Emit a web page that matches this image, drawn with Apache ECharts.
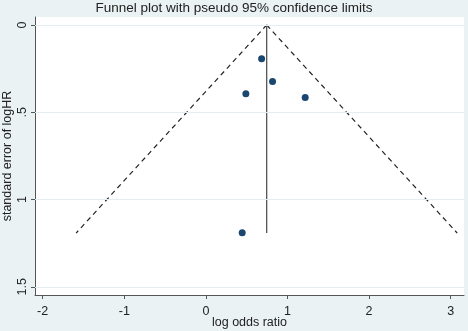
<!DOCTYPE html>
<html>
<head>
<meta charset="utf-8">
<script src="https://cdn.jsdelivr.net/npm/echarts@6/dist/echarts.min.js"></script>
<style>
  html, body { margin: 0; padding: 0; background: #eaf2f3; }
  #funnelChart { width: 468px; height: 331px; }
</style>
</head>
<body>
<div id="funnelChart"></div>
<script>
// study estimates (log odds ratio, standard error)
const studyLogOR = [0.683, 0.817, 0.49, 1.217, 0.445]
const studySE = [0.193, 0.324, 0.394, 0.415, 1.19]

// pooled estimate line and pseudo 95% limits
const pooledX = [0.745, 0.745]
const pooledSE = [0, 1.192]
const lowerLimitX = [0.745, -1.59]
const upperLimitX = [0.745, 3.08]
const limitSE = [0, 1.192]

// axis ticks
const xTicks = [-2, -1, 0, 1, 2, 3]
const yTicks = [0, 0.5, 1, 1.5]
const yTickLabels = ['0', '.5', '1', '1.5']

const textColor = '#222'
const axisColor = '#555'

function pairs (xs, ys) {
  return xs.map((x, i) => [x, ys[i]])
}

var myChart = echarts.init(document.getElementById('funnelChart'))
var option = {
  backgroundColor: '#eaf2f3',
  textStyle: { fontFamily: 'Liberation Sans, Arial, sans-serif' },
  title: {
    text: 'Funnel plot with pseudo 95% confidence limits',
    left: 'center',
    top: 1,
    padding: 0,
    textStyle: { fontSize: 13.5, fontWeight: 'normal', color: textColor }
  },
  grid: {
    left: 35,
    right: 4,
    top: 17,
    bottom: 36,
    containLabel: false,
    outerBoundsMode: 'none',
    show: true,
    backgroundColor: '#fff',
    borderWidth: 0
  },
  xAxis: {
    type: 'value',
    min: -2.094,
    max: 3.163,
    name: 'log odds ratio',
    nameLocation: 'middle',
    nameGap: 21,
    nameMoveOverlap: false,
    nameTextStyle: { fontSize: 12.5, color: textColor },
    axisLine: { show: true, onZero: false, lineStyle: { color: axisColor, width: 1 } },
    axisTick: { show: true, length: 4, lineStyle: { color: axisColor }, customValues: xTicks },
    axisLabel: { fontSize: 12.5, color: textColor, margin: 10, customValues: xTicks },
    splitLine: { show: false }
  },
  yAxis: {
    type: 'value',
    inverse: true,
    min: -0.046,
    max: 1.547,
    name: 'standard error of logHR',
    nameLocation: 'middle',
    nameRotate: 90,
    nameGap: 21,
    nameMoveOverlap: false,
    nameTextStyle: { fontSize: 12.5, color: textColor },
    axisLine: { show: true, onZero: false, lineStyle: { color: axisColor, width: 1 } },
    axisTick: { show: true, length: 4, lineStyle: { color: axisColor }, customValues: yTicks },
    axisLabel: {
      fontSize: 12.5,
      color: textColor,
      rotate: 90,
      margin: 6,
      customValues: yTicks,
      formatter: function (v) {
        const i = yTicks.indexOf(v)
        return i >= 0 ? yTickLabels[i] : ''
      }
    },
    splitLine: { show: false }
  },
  series: [
    {
      // horizontal gridlines
      type: 'line',
      data: [],
      silent: true,
      markLine: {
        silent: true,
        symbol: 'none',
        label: { show: false },
        lineStyle: { color: '#e4edef', width: 1, type: 'solid' },
        data: yTicks.map(v => ({ yAxis: v }))
      }
    },
    {
      type: 'line',
      data: pairs(lowerLimitX, limitSE),
      symbol: 'none',
      lineStyle: { color: '#222', width: 1.2, type: [5, 4] },
      z: 3
    },
    {
      type: 'line',
      data: pairs(upperLimitX, limitSE),
      symbol: 'none',
      lineStyle: { color: '#222', width: 1.2, type: [5, 4] },
      z: 3
    },
    {
      type: 'line',
      data: pairs(pooledX, pooledSE),
      symbol: 'none',
      lineStyle: { color: '#555', width: 1.3 },
      z: 3
    },
    {
      type: 'scatter',
      data: pairs(studyLogOR, studySE),
      symbol: 'circle',
      symbolSize: 7,
      itemStyle: { color: '#1a476f', opacity: 1 },
      z: 4
    }
  ]
}
myChart.setOption(option)
</script>
</body>
</html>
